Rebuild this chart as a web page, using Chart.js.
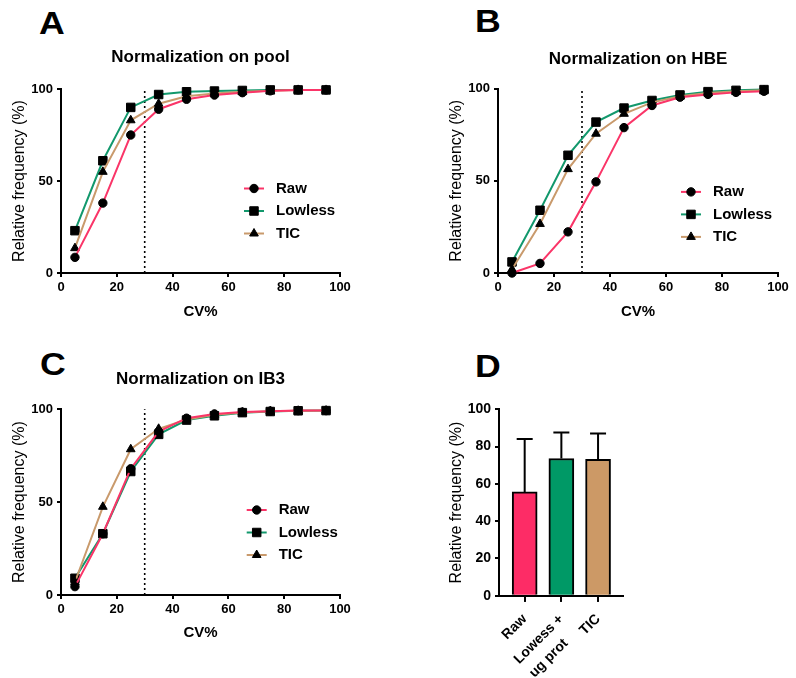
<!DOCTYPE html>
<html>
<head>
<meta charset="utf-8">
<script src="https://cdn.jsdelivr.net/npm/chart.js@4.4.1/dist/chart.umd.min.js"></script>
<style>
  body { margin: 0; background: #fff; }
  #fig { position: relative; width: 796px; height: 678px; overflow: hidden; }
  #fig canvas { position: absolute; }
  .letter { position: absolute; font: bold 31px "Liberation Sans", Arial, sans-serif; line-height: 31px; color: #000; transform: scaleX(1.15); transform-origin: left top; }
</style>
</head>
<body>
<div id="fig">
  <div class="letter" style="left:39px;top:8px">A</div>
  <div class="letter" style="left:475px;top:6px">B</div>
  <div class="letter" style="left:40px;top:349px">C</div>
  <div class="letter" style="left:475px;top:351px">D</div>
  <canvas id="chartA" width="398" height="300" style="left:0;top:30px"></canvas>
  <canvas id="chartB" width="396" height="300" style="left:400px;top:30px"></canvas>
  <canvas id="chartC" width="398" height="300" style="left:0;top:345px"></canvas>
  <canvas id="chartD" width="366" height="298" style="left:430px;top:380px"></canvas>
</div>
<script>
// CV% bins (x values) and cumulative relative frequency (%)
const cvBins = [5, 15, 25, 35, 45, 55, 65, 75, 85, 95];
const seriesNames = ['Raw', 'Lowless', 'TIC'];

const poolRaw = [8.5, 38, 75, 89, 94.4, 96.7, 98, 99, 99.5, 99.5];
const poolLowless = [23, 61, 90, 97, 98.5, 98.9, 99.2, 99.5, 99.5, 99.5];
const poolTic = [13.5, 55, 83, 92, 96, 97.5, 98.5, 99, 99.5, 99.5];

const hbeRaw = [0, 5.2, 22.3, 49.4, 78.8, 90.8, 95.3, 96.8, 97.9, 98.5];
const hbeLowless = [6, 34, 63.8, 81.8, 89.4, 93.5, 96.5, 98.3, 99, 99.4];
const hbeTic = [2, 26.6, 56.3, 75.5, 86.3, 92.5, 95.8, 97.5, 98.5, 99];

const ib3Raw = [4.5, 33, 68, 88, 95.2, 97.5, 98.5, 99, 99.3, 99.3];
const ib3Lowless = [9, 33, 66.5, 86.5, 94.2, 96.5, 98.2, 98.8, 99.2, 99.3];
const ib3Tic = [7, 47.5, 78.5, 89.5, 94.5, 97, 98.3, 99, 99.2, 99.3];

const cvCutoff = 30;
const xTicks = [0, 20, 40, 60, 80, 100];
const yTicksLine = [0, 50, 100];

// panel D
const barLabels = ['Raw', ['Lowess +', 'ug prot'], 'TIC'];
const barMeans = [55.7, 73.6, 73.2];
const barSd = [28.3, 13.9, 13.8];

const FONT = '"Liberation Sans", Arial, sans-serif';
const lineColors = ['#fa3568', '#12986c', '#c99a6c'];
const barColors = ['#fd2c66', '#009966', '#cc9966'];
const pointStyles = ['circle', 'rect', 'triangle'];
const pointRadii = [4.2, 6, 5];

// vertical dotted line at the CV cutoff
const cutoffLine = {
  id: 'cutoffLine',
  beforeDatasetsDraw(chart, args, opts) {
    if (opts.value == null) return;
    const {ctx, scales} = chart;
    const x = scales.x.getPixelForValue(opts.value);
    ctx.save();
    ctx.strokeStyle = '#000';
    ctx.lineWidth = 1.6;
    ctx.setLineDash([2, 3]);
    ctx.beginPath();
    ctx.moveTo(x, scales.y.getPixelForValue(0));
    ctx.lineTo(x, scales.y.getPixelForValue(100));
    ctx.stroke();
    ctx.restore();
  }
};

// legend drawn inside the plot area
const insideLegend = {
  id: 'insideLegend',
  afterDraw(chart, args, opts) {
    if (!opts.display) return;
    const {ctx, chartArea} = chart;
    ctx.save();
    chart.data.datasets.forEach((ds, i) => {
      const x = chartArea.left + opts.x;
      const y = chartArea.top + opts.y + i * opts.gap;
      ctx.strokeStyle = ds.borderColor;
      ctx.lineWidth = 2;
      ctx.beginPath();
      ctx.moveTo(x - 10, y);
      ctx.lineTo(x + 10, y);
      ctx.stroke();
      ctx.fillStyle = '#000';
      ctx.strokeStyle = '#000';
      ctx.lineWidth = 1;
      Chart.helpers.drawPoint(ctx, {pointStyle: ds.pointStyle, radius: ds.pointRadius, borderWidth: 1, rotation: 0}, x, y);
      ctx.font = 'bold 15px ' + FONT;
      ctx.textBaseline = 'middle';
      ctx.fillText(ds.label, x + 22, y);
    });
    ctx.restore();
  }
};

// upper error whiskers for the bars, plus the small category tick marks
const errorBars = {
  id: 'errorBars',
  afterDatasetsDraw(chart, args, opts) {
    if (!opts.sd) return;
    const {ctx, scales} = chart;
    const meta = chart.getDatasetMeta(0);
    ctx.save();
    ctx.strokeStyle = '#000';
    ctx.lineWidth = 2;
    meta.data.forEach((bar, i) => {
      const yTop = scales.y.getPixelForValue(barMeans[i] + opts.sd[i]);
      ctx.beginPath();
      ctx.moveTo(bar.x, bar.y);
      ctx.lineTo(bar.x, yTop);
      ctx.moveTo(bar.x - 8, yTop);
      ctx.lineTo(bar.x + 8, yTop);
      ctx.stroke();
    });
    ctx.restore();
  },
  afterDraw(chart, args, opts) {
    if (!opts.tickLength) return;
    const {ctx, scales} = chart;
    const y0 = scales.x.top;
    ctx.save();
    ctx.strokeStyle = '#000';
    ctx.lineWidth = 2;
    scales.x.ticks.forEach((t, i) => {
      const x = Math.round(scales.x.getPixelForTick(i));
      ctx.beginPath();
      ctx.moveTo(x, y0);
      ctx.lineTo(x, y0 + opts.tickLength);
      ctx.stroke();
    });
    ctx.restore();
  }
};

function axisStyle(tickLength) {
  return {
    border: {display: true, color: '#000', width: 2},
    grid: {drawOnChartArea: false, drawTicks: true, offset: false, tickLength: tickLength || 4, color: '#000', lineWidth: 2}
  };
}

// g: layout numbers for the panel (all pixels relative to the canvas)
function renderCurvePanel(canvasId, title, seriesList, g) {
  const canvas = document.getElementById(canvasId);
  const ctx = canvas.getContext('2d');

  const datasets = seriesList.map((values, i) => ({
    label: seriesNames[i],
    data: cvBins.map((x, j) => ({x: x, y: values[j]})),
    borderColor: lineColors[i],
    borderWidth: 2,
    tension: 0,
    clip: false,
    pointStyle: pointStyles[i],
    pointRadius: pointRadii[i],
    pointBackgroundColor: '#000',
    pointBorderColor: '#000',
    pointBorderWidth: 1
  }));
  // draw Raw on top like the original
  datasets.forEach((d, i) => { d.order = i === 0 ? 0 : 3 - i; });

  return new Chart(ctx, {
    type: 'line',
    data: {datasets: datasets},
    plugins: [cutoffLine, insideLegend],
    options: {
      responsive: false,
      animation: false,
      layout: {padding: {left: 0, right: g.padRight, top: 0, bottom: 0}},
      plugins: {
        legend: {display: false},
        tooltip: {enabled: false},
        title: {
          display: true,
          text: title,
          fullSize: false,
          color: '#000',
          font: {family: FONT, size: 17, weight: 'bold', lineHeight: 1.2},
          padding: {top: g.titleTop, bottom: g.titleBottom}
        },
        cutoffLine: {value: cvCutoff},
        insideLegend: {display: true, x: g.legX, y: g.legY, gap: 22.5}
      },
      scales: {
        x: Object.assign(axisStyle(), {
          type: 'linear',
          min: 0,
          max: 100,
          afterFit: s => { s.height = g.xHeight; },
          afterBuildTicks: s => { s.ticks = xTicks.map(v => ({value: v})); },
          ticks: {color: '#000', padding: 3, font: {family: FONT, size: 13, weight: 'bold'}},
          title: {display: true, text: 'CV%', color: '#000', font: {family: FONT, size: 15, weight: 'bold', lineHeight: 1.2}, padding: {top: 0, bottom: g.xTitlePad}}
        }),
        y: Object.assign(axisStyle(), {
          min: 0,
          max: 100,
          afterFit: s => { s.width = g.yWidth; },
          afterBuildTicks: s => { s.ticks = yTicksLine.map(v => ({value: v})); },
          ticks: {color: '#000', padding: 4, font: {family: FONT, size: 13, weight: 'bold'}},
          title: {display: true, text: 'Relative frequency (%)', color: '#000', font: {family: FONT, size: 16, lineHeight: 1.2}, padding: {top: g.yTitlePad, bottom: 0}}
        })
      }
    }
  });
}

function renderBarPanel(canvasId) {
  const ctx = document.getElementById(canvasId).getContext('2d');
  return new Chart(ctx, {
    type: 'bar',
    data: {
      datasets: [{
        data: barMeans.map((m, i) => ({x: i, y: m})),
        backgroundColor: barColors,
        borderColor: '#000',
        borderWidth: 2,
        barThickness: 25
      }]
    },
    plugins: [errorBars],
    options: {
      responsive: false,
      animation: false,
      layout: {padding: {left: 0, right: 173, top: 29.3, bottom: 0}},
      plugins: {
        legend: {display: false},
        tooltip: {enabled: false},
        errorBars: {sd: barSd, tickLength: 6}
      },
      scales: {
        x: Object.assign(axisStyle(6), {
          type: 'linear',
          offset: false,
          min: -0.7,
          max: 2.68,
          afterFit: s => { s.height = 82.3; },
          afterBuildTicks: s => { s.ticks = barLabels.map((l, i) => ({value: i})); },
          ticks: {
            color: '#000', padding: 8, autoSkip: false, minRotation: 45, maxRotation: 45,
            font: {family: FONT, size: 14, weight: 'bold', lineHeight: 1.45},
            // second line sits a little back along the slant, like the original
            callback: v => {
              const l = barLabels[v];
              return Array.isArray(l) ? l.map((s, k) => k ? s + '\u2002\u2002' : s) : l;
            }
          }
        }),
        y: Object.assign(axisStyle(), {
          min: 0,
          max: 100,
          afterFit: s => { s.width = 69; },
          ticks: {color: '#000', stepSize: 20, padding: 4, font: {family: FONT, size: 14, weight: 'bold'}},
          title: {display: true, text: 'Relative frequency (%)', color: '#000', font: {family: FONT, size: 16, lineHeight: 1.2}, padding: {top: 17, bottom: 0}}
        })
      }
    }
  });
}

renderCurvePanel('chartA', 'Normalization on pool', [poolRaw, poolLowless, poolTic],
  {padRight: 58, yWidth: 61, xHeight: 57, titleTop: 17.3, titleBottom: 21.3, yTitlePad: 10.4, xTitlePad: 9.3, legX: 193, legY: 99.5});
renderCurvePanel('chartB', 'Normalization on HBE', [hbeRaw, hbeLowless, hbeTic],
  {padRight: 18, yWidth: 98, xHeight: 57, titleTop: 19.3, titleBottom: 18.8, yTitlePad: 47.1, xTitlePad: 9.3, legX: 193, legY: 103.4});
renderCurvePanel('chartC', 'Normalization on IB3', [ib3Raw, ib3Lowless, ib3Tic],
  {padRight: 58, yWidth: 61, xHeight: 50, titleTop: 24.5, titleBottom: 19.4, yTitlePad: 10.4, xTitlePad: 2.7, legX: 195.7, legY: 100.7});
renderBarPanel('chartD');
</script>
</body>
</html>
